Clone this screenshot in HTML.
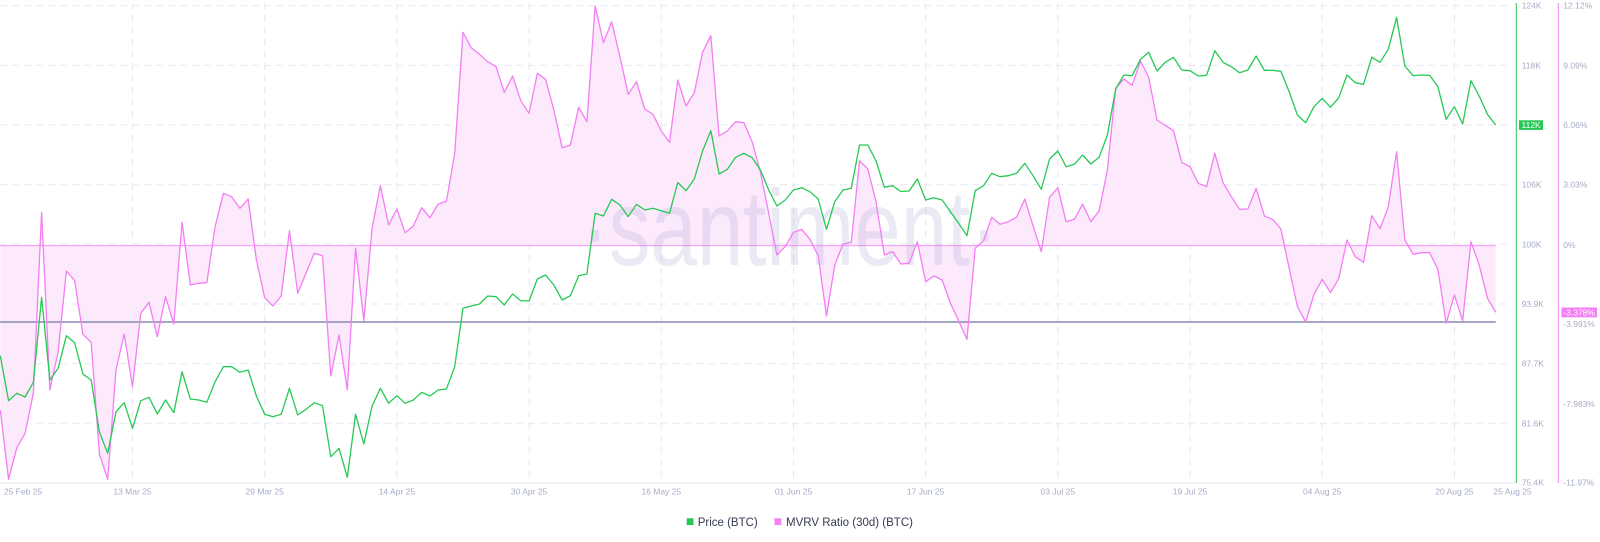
<!DOCTYPE html>
<html>
<head>
<meta charset="utf-8">
<style>
  html,body{margin:0;padding:0;background:#fff;}
  svg{display:block;}
  text{font-family:"Liberation Sans",Arial,sans-serif;}
</style>
</head>
<body>
<svg width="1600" height="542" viewBox="0 0 1600 542" xmlns="http://www.w3.org/2000/svg">
  <rect width="1600" height="542" fill="#ffffff"/>

  <!-- horizontal dashed grid -->
  <g stroke="#e6e8f2" stroke-width="1" stroke-dasharray="7 5" fill="none">
    <line x1="0" y1="5.7" x2="1512" y2="5.7"/>
    <line x1="0" y1="65.4" x2="1512" y2="65.4"/>
    <line x1="0" y1="125" x2="1512" y2="125"/>
    <line x1="0" y1="184.7" x2="1512" y2="184.7"/>
    <line x1="0" y1="244.3" x2="1512" y2="244.3"/>
    <line x1="0" y1="304" x2="1512" y2="304"/>
    <line x1="0" y1="363.6" x2="1512" y2="363.6"/>
    <line x1="0" y1="423.3" x2="1512" y2="423.3"/>
  </g>
  <!-- vertical dashed grid -->
  <g stroke="#e6e8f2" stroke-width="1" stroke-dasharray="7 5" fill="none">
    <line x1="132.5" y1="3" x2="132.5" y2="483"/>
    <line x1="264.7" y1="3" x2="264.7" y2="483"/>
    <line x1="396.9" y1="3" x2="396.9" y2="483"/>
    <line x1="529.1" y1="3" x2="529.1" y2="483"/>
    <line x1="661.3" y1="3" x2="661.3" y2="483"/>
    <line x1="793.5" y1="3" x2="793.5" y2="483"/>
    <line x1="925.6" y1="3" x2="925.6" y2="483"/>
    <line x1="1057.8" y1="3" x2="1057.8" y2="483"/>
    <line x1="1190" y1="3" x2="1190" y2="483"/>
    <line x1="1322.2" y1="3" x2="1322.2" y2="483"/>
    <line x1="1454.4" y1="3" x2="1454.4" y2="483"/>
  </g>

  <!-- bottom axis line -->
  <line x1="0" y1="483" x2="1516" y2="483" stroke="#e2e4ee" stroke-width="1"/>

  <g transform="translate(0.3,0) scale(8.262,1)">
    <!-- MVRV fill -->
    <polygon fill="#fde9fc" stroke="none" points="0,410 1,479.3 2,447.7 3,433.3 4,393.3 5,212.3 6,390 7,351.7 8,271 9,280.7 10,334.3 11,342.3 12,454.3 13,479.3 14,370 15,334 16,386.7 17,313.3 18,302.3 19,336.7 20,296.7 21,324 22,222.3 23,285 24,283.3 25,282.7 26,226.7 27,193.3 28,196.7 29,208.3 30,199 31,260 32,297.7 33,306 34,296 35,230.7 36,293.3 37,273.3 38,253.3 39,255.7 40,376 41,335 42,390 43,248.3 44,320.7 45,228.3 46,185.7 47,225 48,209 49,232.7 50,226 51,207.7 52,217.7 53,204 54,201.3 55,153.3 56,32.3 57,47.7 58,54.3 59,61.7 60,66.7 61,92.3 62,76 63,100.7 64,113.3 65,73.3 66,79.3 67,110 68,147.7 69,145 70,107.3 71,121.7 72,6 73,42.7 74,21.7 75,56.7 76,94.3 77,81.7 78,109 79,114.3 80,131 81,142.3 82,80 83,106 84,92.7 85,52.3 86,35.7 87,136 88,131 89,121.7 90,122.7 91,141.7 92,172 93,213 94,255 95,246.7 96,232.3 97,229.3 98,239.3 99,256 100,316 101,265 102,244 103,242.3 104,160.7 105,169 106,201.7 107,255 108,251.7 109,264 110,263.3 111,241.7 112,281.7 113,276 114,280 115,303.3 116,321 117,339.3 118,248.3 119,240.7 120,217.3 121,224.3 122,221.7 123,217.3 124,199 125,225.7 126,251.7 127,197.3 128,187.7 129,221.7 130,219.3 131,204 132,221.7 133,210.7 134,170 135,88.3 136,79 137,85.3 138,61 139,77.3 140,120 141,125.3 142,130.7 143,162.3 144,166.7 145,183.3 146,186.7 147,153.3 148,182.7 149,196.7 150,209.3 151,209 152,188.3 153,216 154,219.3 155,229 156,268.3 157,306.7 158,322 159,294.5 160,279.3 161,292.7 162,278.7 163,240 164,256.7 165,262.3 166,215.7 167,228.7 168,206.7 169,151.7 170,240 171,254.3 172,252.7 173,252.7 174,269.3 175,323.3 176,295 177,320.7 178,241.7 179,265 180,298.3 181,312.3 181,245.6 0,245.6"/>
  </g>

  <!-- 0% baseline -->
  <line x1="0" y1="245.6" x2="1495.7" y2="245.6" stroke="#f6a8f6" stroke-width="1.2"/>

  <!-- watermark -->
  <text x="581" y="265" font-size="108" textLength="417" lengthAdjust="spacingAndGlyphs" fill="rgba(140,140,200,0.18)">·santiment·</text>

  <!-- reference horizontal line -->
  <line x1="0" y1="322" x2="1495.7" y2="322" stroke="#868bb0" stroke-width="1.6"/>

  <g transform="translate(0.3,0) scale(8.262,1)" fill="none" stroke-linejoin="round">
    <!-- MVRV line -->
    <polyline vector-effect="non-scaling-stroke" stroke="#f47ef4" stroke-width="1.3" points="0,410 1,479.3 2,447.7 3,433.3 4,393.3 5,212.3 6,390 7,351.7 8,271 9,280.7 10,334.3 11,342.3 12,454.3 13,479.3 14,370 15,334 16,386.7 17,313.3 18,302.3 19,336.7 20,296.7 21,324 22,222.3 23,285 24,283.3 25,282.7 26,226.7 27,193.3 28,196.7 29,208.3 30,199 31,260 32,297.7 33,306 34,296 35,230.7 36,293.3 37,273.3 38,253.3 39,255.7 40,376 41,335 42,390 43,248.3 44,320.7 45,228.3 46,185.7 47,225 48,209 49,232.7 50,226 51,207.7 52,217.7 53,204 54,201.3 55,153.3 56,32.3 57,47.7 58,54.3 59,61.7 60,66.7 61,92.3 62,76 63,100.7 64,113.3 65,73.3 66,79.3 67,110 68,147.7 69,145 70,107.3 71,121.7 72,6 73,42.7 74,21.7 75,56.7 76,94.3 77,81.7 78,109 79,114.3 80,131 81,142.3 82,80 83,106 84,92.7 85,52.3 86,35.7 87,136 88,131 89,121.7 90,122.7 91,141.7 92,172 93,213 94,255 95,246.7 96,232.3 97,229.3 98,239.3 99,256 100,316 101,265 102,244 103,242.3 104,160.7 105,169 106,201.7 107,255 108,251.7 109,264 110,263.3 111,241.7 112,281.7 113,276 114,280 115,303.3 116,321 117,339.3 118,248.3 119,240.7 120,217.3 121,224.3 122,221.7 123,217.3 124,199 125,225.7 126,251.7 127,197.3 128,187.7 129,221.7 130,219.3 131,204 132,221.7 133,210.7 134,170 135,88.3 136,79 137,85.3 138,61 139,77.3 140,120 141,125.3 142,130.7 143,162.3 144,166.7 145,183.3 146,186.7 147,153.3 148,182.7 149,196.7 150,209.3 151,209 152,188.3 153,216 154,219.3 155,229 156,268.3 157,306.7 158,322 159,294.5 160,279.3 161,292.7 162,278.7 163,240 164,256.7 165,262.3 166,215.7 167,228.7 168,206.7 169,151.7 170,240 171,254.3 172,252.7 173,252.7 174,269.3 175,323.3 176,295 177,320.7 178,241.7 179,265 180,298.3 181,312.3"/>
    <!-- Price line -->
    <polyline vector-effect="non-scaling-stroke" stroke="#26c953" stroke-width="1.3" points="0,355.7 1,400.7 2,393.3 3,397 4,382.3 5,297.3 6,380 7,368.3 8,335.7 9,342.7 10,374 11,380 12,432.3 13,453.3 14,411.7 15,402.7 16,428.3 17,400.7 18,397.3 19,414 20,400 21,412.7 22,371.7 23,399 24,400 25,402.3 26,381.7 27,366.7 28,366.7 29,372.3 30,370 31,396 32,414.3 33,416.7 34,414.3 35,388.3 36,415 37,409.3 38,402.7 39,405.7 40,456.7 41,448.3 42,477.3 43,414.3 44,444 45,406 46,388.3 47,403.3 48,395.7 49,403.3 50,400 51,392.3 52,396 53,390 54,389 55,366.7 56,308.3 57,306 58,304 59,296 60,296.7 61,305 62,294 63,300.7 64,301 65,279 66,275 67,285 68,300 69,295.7 70,275.7 71,274 72,213.3 73,216 74,199.3 75,205 76,216.7 77,204.3 78,210 79,208.3 80,210.7 81,213.3 82,182.5 83,190.7 84,179 85,151 86,130.7 87,174 88,169.3 89,157.3 90,153.3 91,157.7 92,170 93,190 94,206 95,200 96,190 97,187.7 98,191.7 99,199 100,229.3 101,201.7 102,190 103,188.3 104,145 105,145 106,161 107,187.3 108,185.7 109,191.5 110,191 111,179 112,200 113,197.7 114,200 115,211.7 116,223.3 117,235.7 118,190.7 119,185.7 120,173.3 121,176.7 122,175.7 123,173.3 124,163.3 125,175.7 126,189.3 127,159 128,151 129,166.7 130,164.3 131,155 132,164 133,157.3 134,135 135,89 136,75 137,75.7 138,59.3 139,52.3 140,71 141,62.3 142,57.3 143,70 144,70.7 145,76 146,75.3 147,50.7 148,62.3 149,66.7 150,72.7 151,70 152,56 153,70.3 154,70.3 155,71.3 156,91.7 157,115 158,122.7 159,106.7 160,98.3 161,107.3 162,97.8 163,75 164,82.7 165,84.3 166,57.3 167,62.3 168,49.3 169,17.3 170,66 171,75.7 172,75 173,75.3 174,86.7 175,119.3 176,106.7 177,124 178,80.7 179,96 180,114.3 181,125"/>
  </g>

  <!-- right axes -->
  <line x1="1516.3" y1="3" x2="1516.3" y2="483" stroke="#26c953" stroke-width="1"/>
  <line x1="1558.3" y1="3" x2="1558.3" y2="483" stroke="#f47ef4" stroke-width="1"/>

  <g font-size="8.5" fill="#a6abc5">
    <text x="1521.7" y="8.7">124K</text>
    <text x="1521.7" y="68.4">118K</text>
    <text x="1521.7" y="187.7">106K</text>
    <text x="1521.7" y="247.3">100K</text>
    <text x="1521.7" y="307">93.9K</text>
    <text x="1521.7" y="366.6">87.7K</text>
    <text x="1521.7" y="426.3">81.6K</text>
    <text x="1521.7" y="485.7">75.4K</text>

    <text x="1563.3" y="8.7">12.12%</text>
    <text x="1563.3" y="68.4">9.09%</text>
    <text x="1563.3" y="128">6.06%</text>
    <text x="1563.3" y="187.7">3.03%</text>
    <text x="1563.3" y="248">0%</text>
    <text x="1563.3" y="327">-3.991%</text>
    <text x="1563.3" y="407">-7.983%</text>
    <text x="1563.3" y="485.7">-11.97%</text>
  </g>

  <!-- badges -->
  <rect x="1519" y="120.3" width="24" height="9.6" fill="#26c953"/>
  <text x="1521.5" y="128" font-size="8.5" fill="#ffffff">112K</text>
  <rect x="1561.5" y="307.5" width="35.5" height="9.8" fill="#f47ef4"/>
  <text x="1563.3" y="315.3" font-size="8.5" fill="#ffffff">-3.378%</text>

  <!-- x axis labels -->
  <g font-size="8.5" fill="#a6abc5" text-anchor="middle">
    <text x="23" y="494.7">25 Feb 25</text>
    <text x="132.5" y="494.7">13 Mar 25</text>
    <text x="264.7" y="494.7">29 Mar 25</text>
    <text x="396.9" y="494.7">14 Apr 25</text>
    <text x="529.1" y="494.7">30 Apr 25</text>
    <text x="661.3" y="494.7">16 May 25</text>
    <text x="793.5" y="494.7">01 Jun 25</text>
    <text x="925.6" y="494.7">17 Jun 25</text>
    <text x="1057.8" y="494.7">03 Jul 25</text>
    <text x="1190" y="494.7">19 Jul 25</text>
    <text x="1322.2" y="494.7">04 Aug 25</text>
    <text x="1454.4" y="494.7">20 Aug 25</text>
    <text x="1512.5" y="494.7">25 Aug 25</text>
  </g>

  <!-- legend -->
  <rect x="686.7" y="518.3" width="6.8" height="6.8" fill="#26c953"/>
  <text x="697.7" y="525.8" font-size="11.5" fill="#353a52">Price (BTC)</text>
  <rect x="774.5" y="518.3" width="6.8" height="6.8" fill="#f47ef4"/>
  <text x="786" y="525.8" font-size="11.5" fill="#353a52">MVRV Ratio (30d) (BTC)</text>
</svg>
</body>
</html>
